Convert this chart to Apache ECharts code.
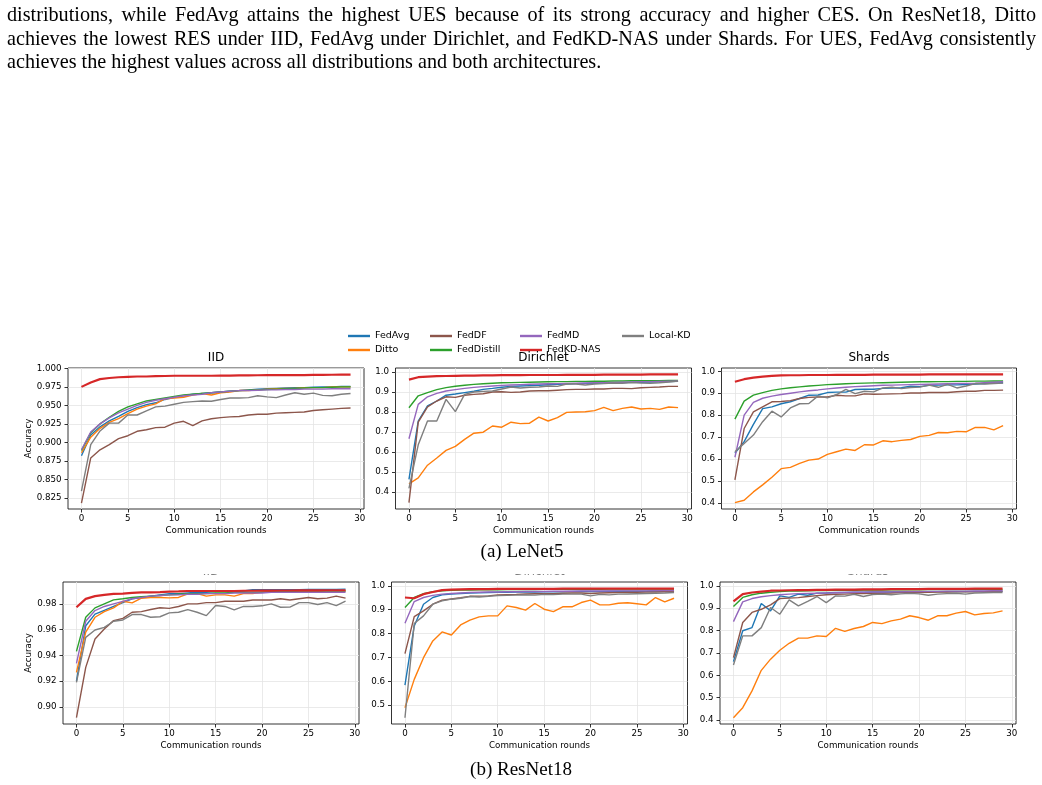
<!DOCTYPE html>
<html>
<head>
<meta charset="utf-8">
<script src="https://cdn.jsdelivr.net/npm/echarts@6.0.0/dist/echarts.min.js"></script>
<style>
  html, body { margin: 0; padding: 0; background: #fff; }
  #page { position: relative; width: 1042px; height: 785px; overflow: hidden; background: #fff; }
  #chart { position: absolute; left: 0; top: 0; width: 1042px; height: 785px; }
  #para { position: absolute; left: 7px; top: 1.5px; width: 1029px; font-family: "Liberation Serif", "Times New Roman", serif;
          font-size: 20.2px; line-height: 22.6px; color: #000; z-index: 5;
          transform: scaleY(1.04); transform-origin: 0 0; }
  #para .jl { text-align: justify; text-align-last: justify; white-space: nowrap; }
  #para .ll { text-align: left; white-space: nowrap; }
</style>
</head>
<body>
<div id="page">
  <div id="chart"></div>
  <div id="para">
    <div class="jl">distributions, while FedAvg attains the highest UES because of its strong accuracy and higher CES. On ResNet18, Ditto</div>
    <div class="jl">achieves the lowest RES under IID, FedAvg under Dirichlet, and FedKD-NAS under Shards. For UES, FedAvg consistently</div>
    <div class="ll">achieves the highest values across all distributions and both architectures.</div>
  </div>
</div>
<script>
// ---------------- data ----------------
const rounds = [0,1,2,3,4,5,6,7,8,9,10,11,12,13,14,15,16,17,18,19,20,21,22,23,24,25,26,27,28,29];
const methods = ['FedAvg','Ditto','FedDF','FedDistill','FedMD','FedKD-NAS','Local-KD'];
const methodColors = ['#1f77b4','#ff7f0e','#8c564b','#2ca02c','#9467bd','#d62728','#7f7f7f'];
const panelTitles = ['IID','Dirichlet','Shards','IID','Dirichlet','Shards'];
const xTicks = [0,5,10,15,20,25,30];

// LeNet5 - IID
const L5_IID_FedAvg    = [0.882,0.910,0.921,0.929,0.935,0.942,0.947,0.951,0.9535,0.958,0.961,0.963,0.965,0.966,0.967,0.968,0.969,0.970,0.971,0.972,0.9725,0.973,0.9735,0.974,0.974,0.9745,0.975,0.975,0.9755,0.9755];
const L5_IID_Ditto     = [0.886,0.907,0.919,0.927,0.932,0.939,0.945,0.949,0.952,0.959,0.960,0.961,0.964,0.966,0.964,0.967,0.968,0.970,0.970,0.971,0.972,0.9725,0.973,0.973,0.974,0.974,0.974,0.975,0.975,0.975];
const L5_IID_FedDF     = [0.818,0.879,0.890,0.897,0.905,0.909,0.915,0.917,0.920,0.9205,0.926,0.9285,0.9225,0.929,0.932,0.9335,0.9345,0.935,0.937,0.938,0.938,0.9395,0.940,0.9405,0.941,0.943,0.944,0.945,0.946,0.9465];
const L5_IID_FedDistill= [0.889,0.913,0.925,0.934,0.942,0.948,0.952,0.956,0.958,0.960,0.962,0.964,0.965,0.966,0.967,0.968,0.969,0.970,0.9705,0.971,0.9715,0.972,0.9725,0.973,0.9735,0.974,0.974,0.9745,0.975,0.975];
const L5_IID_FedMD     = [0.890,0.914,0.925,0.933,0.940,0.945,0.950,0.954,0.957,0.959,0.961,0.963,0.964,0.965,0.967,0.968,0.969,0.970,0.970,0.9705,0.971,0.971,0.9715,0.9715,0.972,0.972,0.972,0.9725,0.9725,0.9725];
const L5_IID_FedKDNAS  = [0.975,0.981,0.9855,0.987,0.988,0.9885,0.989,0.989,0.9895,0.9897,0.990,0.990,0.990,0.990,0.990,0.9902,0.9903,0.9905,0.9906,0.9907,0.9908,0.9909,0.991,0.991,0.991,0.9912,0.9913,0.9914,0.9915,0.9915];
const L5_IID_LocalKD   = [0.834,0.897,0.9155,0.926,0.926,0.937,0.937,0.9425,0.948,0.949,0.9515,0.954,0.955,0.956,0.9555,0.958,0.960,0.960,0.9605,0.963,0.9615,0.9605,0.964,0.967,0.965,0.9665,0.9635,0.963,0.965,0.966];

// LeNet5 - Dirichlet
const L5_DIR_FedAvg    = [0.463,0.755,0.831,0.855,0.884,0.890,0.897,0.904,0.913,0.918,0.924,0.928,0.930,0.932,0.934,0.936,0.938,0.940,0.942,0.943,0.944,0.945,0.946,0.947,0.948,0.949,0.950,0.951,0.952,0.954];
const L5_DIR_Ditto     = [0.441,0.471,0.534,0.570,0.608,0.628,0.663,0.694,0.699,0.730,0.724,0.749,0.742,0.744,0.774,0.755,0.772,0.798,0.800,0.801,0.807,0.823,0.807,0.818,0.825,0.815,0.818,0.813,0.825,0.822];
const L5_DIR_FedDF     = [0.347,0.749,0.826,0.855,0.876,0.873,0.884,0.888,0.891,0.900,0.901,0.898,0.900,0.905,0.906,0.906,0.909,0.912,0.913,0.913,0.915,0.915,0.918,0.918,0.917,0.921,0.923,0.925,0.928,0.928];
const L5_DIR_FedDistill= [0.8215,0.881,0.897,0.912,0.922,0.929,0.934,0.938,0.941,0.944,0.946,0.947,0.948,0.949,0.950,0.951,0.952,0.952,0.953,0.953,0.954,0.954,0.955,0.955,0.956,0.956,0.957,0.957,0.958,0.958];
const L5_DIR_FedMD     = [0.666,0.838,0.876,0.893,0.905,0.912,0.918,0.923,0.927,0.930,0.933,0.935,0.937,0.939,0.940,0.941,0.942,0.943,0.944,0.945,0.946,0.947,0.948,0.949,0.950,0.951,0.952,0.953,0.954,0.955];
const L5_DIR_FedKDNAS  = [0.962,0.974,0.977,0.979,0.980,0.981,0.982,0.982,0.983,0.983,0.984,0.984,0.984,0.985,0.985,0.985,0.985,0.986,0.986,0.986,0.986,0.987,0.987,0.987,0.987,0.987,0.988,0.988,0.988,0.988];
const L5_DIR_LocalKD   = [0.418,0.636,0.755,0.755,0.863,0.802,0.888,0.900,0.903,0.905,0.915,0.925,0.920,0.924,0.925,0.930,0.928,0.940,0.940,0.935,0.940,0.942,0.945,0.944,0.947,0.945,0.944,0.946,0.950,0.955];

// LeNet5 - Shards
const L5_SH_FedAvg     = [0.626,0.679,0.758,0.830,0.838,0.852,0.861,0.876,0.891,0.892,0.903,0.905,0.905,0.917,0.918,0.918,0.922,0.924,0.925,0.932,0.930,0.936,0.937,0.938,0.938,0.940,0.942,0.944,0.946,0.948];
const L5_SH_Ditto      = [0.401,0.412,0.450,0.482,0.517,0.556,0.562,0.580,0.595,0.600,0.621,0.633,0.645,0.639,0.665,0.664,0.683,0.679,0.685,0.689,0.703,0.708,0.721,0.720,0.726,0.724,0.744,0.744,0.733,0.752];
const L5_SH_FedDF      = [0.505,0.739,0.815,0.838,0.861,0.862,0.866,0.876,0.881,0.883,0.883,0.891,0.888,0.888,0.897,0.895,0.896,0.897,0.898,0.901,0.901,0.903,0.904,0.903,0.907,0.909,0.909,0.913,0.913,0.914];
const L5_SH_FedDistill = [0.782,0.864,0.891,0.903,0.913,0.920,0.925,0.929,0.933,0.936,0.939,0.941,0.943,0.945,0.946,0.947,0.948,0.949,0.950,0.951,0.952,0.952,0.953,0.953,0.954,0.954,0.955,0.955,0.956,0.956];
const L5_SH_FedMD      = [0.608,0.800,0.858,0.877,0.887,0.894,0.900,0.906,0.911,0.915,0.920,0.924,0.927,0.930,0.932,0.934,0.936,0.937,0.938,0.939,0.940,0.941,0.942,0.943,0.944,0.945,0.946,0.948,0.950,0.952];
const L5_SH_FedKDNAS   = [0.952,0.964,0.971,0.976,0.979,0.981,0.982,0.982,0.983,0.983,0.983,0.984,0.984,0.984,0.984,0.985,0.985,0.985,0.985,0.985,0.985,0.986,0.986,0.986,0.986,0.986,0.986,0.986,0.986,0.986];
const L5_SH_LocalKD    = [0.633,0.671,0.709,0.770,0.818,0.792,0.833,0.852,0.853,0.888,0.879,0.894,0.918,0.898,0.909,0.906,0.924,0.927,0.921,0.926,0.928,0.937,0.927,0.940,0.924,0.933,0.944,0.942,0.944,0.946];

// ResNet18 - IID
const R18_IID_FedAvg    = [0.920,0.963,0.972,0.975,0.978,0.981,0.984,0.985,0.986,0.987,0.988,0.988,0.9885,0.989,0.989,0.9895,0.9895,0.990,0.990,0.991,0.991,0.991,0.991,0.991,0.991,0.9912,0.9912,0.9912,0.9913,0.9915];
const R18_IID_Ditto     = [0.9268,0.958,0.9696,0.974,0.9769,0.982,0.9808,0.9844,0.985,0.985,0.9847,0.985,0.9878,0.988,0.986,0.987,0.987,0.986,0.988,0.988,0.989,0.989,0.989,0.989,0.9895,0.9895,0.9895,0.990,0.990,0.990];
const R18_IID_FedDF     = [0.8917,0.9307,0.9527,0.9605,0.967,0.9688,0.9735,0.974,0.9756,0.977,0.9765,0.978,0.980,0.980,0.981,0.981,0.982,0.982,0.982,0.983,0.983,0.983,0.984,0.983,0.984,0.985,0.984,0.9845,0.986,0.9845];
const R18_IID_FedDistill= [0.9431,0.9696,0.9769,0.980,0.9831,0.984,0.985,0.9855,0.986,0.9865,0.987,0.9875,0.988,0.988,0.988,0.9885,0.9885,0.989,0.989,0.989,0.989,0.9895,0.9895,0.9895,0.990,0.990,0.990,0.990,0.990,0.990];
const R18_IID_FedMD     = [0.9338,0.9665,0.9748,0.978,0.980,0.982,0.984,0.985,0.986,0.9865,0.987,0.987,0.9875,0.9875,0.988,0.988,0.988,0.9885,0.9885,0.9885,0.9885,0.989,0.989,0.989,0.989,0.989,0.989,0.989,0.989,0.989];
const R18_IID_FedKDNAS  = [0.9774,0.9839,0.986,0.987,0.9878,0.988,0.9885,0.989,0.989,0.9892,0.9895,0.9897,0.990,0.990,0.990,0.990,0.990,0.990,0.9902,0.9902,0.9903,0.9903,0.9904,0.9904,0.9905,0.9905,0.9905,0.9906,0.9906,0.9906];
const R18_IID_LocalKD   = [0.919,0.954,0.9597,0.9618,0.9665,0.9675,0.9717,0.9717,0.9696,0.970,0.973,0.9735,0.9756,0.9735,0.9709,0.9787,0.978,0.9753,0.978,0.978,0.9785,0.980,0.9774,0.9775,0.981,0.981,0.9795,0.981,0.9787,0.9821];

// ResNet18 - Dirichlet
const R18_DIR_FedAvg    = [0.584,0.832,0.923,0.951,0.962,0.966,0.968,0.970,0.971,0.972,0.973,0.973,0.974,0.974,0.974,0.975,0.975,0.975,0.976,0.976,0.976,0.976,0.977,0.977,0.977,0.977,0.977,0.978,0.978,0.978];
const R18_DIR_Ditto     = [0.489,0.608,0.699,0.769,0.807,0.794,0.836,0.856,0.870,0.874,0.874,0.916,0.909,0.898,0.926,0.902,0.892,0.912,0.912,0.930,0.940,0.920,0.920,0.927,0.929,0.925,0.920,0.951,0.933,0.948];
const R18_DIR_FedDF     = [0.716,0.871,0.895,0.923,0.940,0.945,0.950,0.956,0.957,0.958,0.962,0.963,0.964,0.966,0.967,0.967,0.967,0.969,0.970,0.970,0.968,0.970,0.971,0.972,0.973,0.973,0.974,0.974,0.975,0.976];
const R18_DIR_FedDistill= [0.909,0.951,0.967,0.975,0.979,0.981,0.982,0.982,0.983,0.983,0.983,0.984,0.984,0.984,0.984,0.985,0.985,0.985,0.985,0.985,0.985,0.985,0.986,0.986,0.986,0.986,0.986,0.986,0.986,0.986];
const R18_DIR_FedMD     = [0.843,0.934,0.951,0.960,0.965,0.968,0.970,0.972,0.973,0.974,0.974,0.975,0.975,0.976,0.976,0.976,0.977,0.977,0.977,0.978,0.978,0.978,0.978,0.979,0.979,0.979,0.979,0.980,0.980,0.980];
const R18_DIR_FedKDNAS  = [0.951,0.948,0.965,0.974,0.982,0.984,0.985,0.986,0.986,0.986,0.987,0.987,0.987,0.987,0.987,0.987,0.987,0.988,0.988,0.988,0.988,0.988,0.988,0.988,0.988,0.988,0.988,0.988,0.988,0.988];
const R18_DIR_LocalKD   = [0.447,0.842,0.874,0.923,0.937,0.944,0.948,0.955,0.953,0.956,0.959,0.960,0.961,0.962,0.961,0.964,0.963,0.965,0.965,0.965,0.958,0.964,0.962,0.965,0.966,0.967,0.968,0.969,0.970,0.972];

// ResNet18 - Shards
const R18_SH_FedAvg     = [0.661,0.799,0.813,0.921,0.888,0.955,0.948,0.963,0.958,0.967,0.968,0.970,0.970,0.971,0.971,0.972,0.972,0.972,0.973,0.973,0.973,0.973,0.974,0.974,0.974,0.974,0.975,0.975,0.975,0.975];
const R18_SH_Ditto      = [0.410,0.455,0.530,0.622,0.672,0.712,0.743,0.766,0.766,0.776,0.773,0.810,0.796,0.809,0.818,0.836,0.831,0.843,0.851,0.866,0.858,0.846,0.866,0.866,0.878,0.885,0.870,0.876,0.879,0.888];
const R18_SH_FedDF      = [0.679,0.836,0.881,0.895,0.915,0.943,0.945,0.947,0.952,0.956,0.960,0.962,0.963,0.965,0.965,0.967,0.967,0.968,0.970,0.970,0.970,0.971,0.972,0.972,0.973,0.973,0.973,0.974,0.975,0.976];
const R18_SH_FedDistill = [0.907,0.948,0.960,0.967,0.971,0.974,0.976,0.977,0.978,0.979,0.979,0.980,0.980,0.980,0.981,0.981,0.981,0.982,0.982,0.982,0.982,0.983,0.983,0.983,0.983,0.983,0.984,0.984,0.984,0.984];
const R18_SH_FedMD      = [0.840,0.928,0.943,0.951,0.956,0.960,0.963,0.965,0.966,0.967,0.968,0.969,0.970,0.971,0.971,0.972,0.972,0.973,0.973,0.974,0.974,0.975,0.975,0.976,0.976,0.976,0.977,0.977,0.978,0.978];
const R18_SH_FedKDNAS   = [0.930,0.963,0.970,0.974,0.978,0.979,0.980,0.981,0.981,0.982,0.982,0.983,0.983,0.983,0.984,0.984,0.984,0.985,0.985,0.985,0.985,0.986,0.986,0.986,0.986,0.986,0.987,0.987,0.987,0.987];
const R18_SH_LocalKD    = [0.646,0.776,0.776,0.813,0.903,0.873,0.937,0.910,0.930,0.952,0.925,0.955,0.954,0.962,0.952,0.961,0.963,0.960,0.964,0.966,0.964,0.958,0.963,0.965,0.967,0.963,0.968,0.969,0.970,0.970];

// y tick values
const L5_IID_yTicks  = [0.825,0.850,0.875,0.900,0.925,0.950,0.975,1.000];
const L5_DIR_yTicks  = [0.4,0.5,0.6,0.7,0.8,0.9,1.0];
const L5_SH_yTicks   = [0.4,0.5,0.6,0.7,0.8,0.9,1.0];
const R18_IID_yTicks = [0.90,0.92,0.94,0.96,0.98];
const R18_DIR_yTicks = [0.5,0.6,0.7,0.8,0.9,1.0];
const R18_SH_yTicks  = [0.4,0.5,0.6,0.7,0.8,0.9,1.0];

// legend columns (matplotlib column-major order)
const legendCols = [['FedAvg','Ditto'],['FedDF','FedDistill'],['FedMD','FedKD-NAS'],['Local-KD']];

// ---------------- layout ----------------
const panelData = [
  [L5_IID_FedAvg,L5_IID_Ditto,L5_IID_FedDF,L5_IID_FedDistill,L5_IID_FedMD,L5_IID_FedKDNAS,L5_IID_LocalKD],
  [L5_DIR_FedAvg,L5_DIR_Ditto,L5_DIR_FedDF,L5_DIR_FedDistill,L5_DIR_FedMD,L5_DIR_FedKDNAS,L5_DIR_LocalKD],
  [L5_SH_FedAvg,L5_SH_Ditto,L5_SH_FedDF,L5_SH_FedDistill,L5_SH_FedMD,L5_SH_FedKDNAS,L5_SH_LocalKD],
  [R18_IID_FedAvg,R18_IID_Ditto,R18_IID_FedDF,R18_IID_FedDistill,R18_IID_FedMD,R18_IID_FedKDNAS,R18_IID_LocalKD],
  [R18_DIR_FedAvg,R18_DIR_Ditto,R18_DIR_FedDF,R18_DIR_FedDistill,R18_DIR_FedMD,R18_DIR_FedKDNAS,R18_DIR_LocalKD],
  [R18_SH_FedAvg,R18_SH_Ditto,R18_SH_FedDF,R18_SH_FedDistill,R18_SH_FedMD,R18_SH_FedKDNAS,R18_SH_LocalKD]
];
const panelTicks = [L5_IID_yTicks,L5_DIR_yTicks,L5_SH_yTicks,R18_IID_yTicks,R18_DIR_yTicks,R18_SH_yTicks];
const layout = [
  {left: 68,    top: 368, w: 296, h: 141, yMin: 0.810, yMax: 1.0005, dec: 3, yName: true,  nameGap: 35},
  {left: 395.5, top: 368, w: 296, h: 141, yMin: 0.315, yMax: 1.020,  dec: 1, yName: false},
  {left: 721.5, top: 368, w: 295, h: 141, yMin: 0.372, yMax: 1.015,  dec: 1, yName: false},
  {left: 63,    top: 582, w: 296, h: 142, yMin: 0.8867,yMax: 0.997,  dec: 2, yName: true,  nameGap: 30},
  {left: 391.5, top: 582, w: 296, h: 142, yMin: 0.421, yMax: 1.016,  dec: 1, yName: false},
  {left: 720,   top: 582, w: 296, h: 142, yMin: 0.382, yMax: 1.017,  dec: 1, yName: false}
];

const MPL_FONT = '"DejaVu Sans", sans-serif';
const tickStyle = { show: true, inside: false, length: 3.5, lineStyle: { color: '#000', width: 0.8 } };
const gridLine = { show: true, lineStyle: { color: '#e4e4e4', width: 0.8 } };

const grids = layout.map(p => ({
  left: p.left, top: p.top, width: p.w, height: p.h,
  show: true, borderColor: '#000', borderWidth: 0.8, backgroundColor: 'rgba(0,0,0,0)',
  containLabel: false, outerBoundsMode: 'none'
}));

const xAxes = layout.map((p, i) => ({
  type: 'value', gridIndex: i, min: -1.45, max: 30.45, position: 'bottom',
  axisLine: { show: false, onZero: false },
  axisTick: Object.assign({ customValues: xTicks }, tickStyle),
  axisLabel: { customValues: xTicks, fontSize: 8.7, fontFamily: MPL_FONT, color: '#000', margin: 5.5,
               formatter: v => String(v) },
  splitLine: gridLine,
  name: 'Communication rounds', nameLocation: 'middle', nameGap: 17, nameMoveOverlap: false,
  nameTextStyle: { fontSize: 8.7, fontFamily: MPL_FONT, color: '#000' }
}));

const yAxes = layout.map((p, i) => {
  const ax = {
    type: 'value', gridIndex: i, min: p.yMin, max: p.yMax, position: 'left',
    axisLine: { show: false, onZero: false },
    axisTick: Object.assign({ customValues: panelTicks[i] }, tickStyle),
    axisLabel: { customValues: panelTicks[i], fontSize: 8.7, fontFamily: MPL_FONT, color: '#000', margin: 6.5,
                 formatter: v => Number(v).toFixed(p.dec) },
    splitLine: gridLine
  };
  if (p.yName) {
    Object.assign(ax, {
      name: 'Accuracy', nameLocation: 'middle', nameGap: p.nameGap, nameRotate: 90, nameMoveOverlap: false,
      nameTextStyle: { fontSize: 8.7, fontFamily: MPL_FONT, color: '#000' }
    });
  }
  return ax;
});

const series = [];
panelData.forEach((rows, i) => {
  rows.forEach((vals, m) => {
    series.push({
      type: 'line', name: methods[m], xAxisIndex: i, yAxisIndex: i,
      data: rounds.map((r, k) => [r, vals[k]]),
      symbol: 'none', showSymbol: false, smooth: false, silent: true,
      lineStyle: { color: methodColors[m], width: methods[m] === 'FedKD-NAS' ? 2.2 : 1.4 },
      itemStyle: { color: methodColors[m] },
      emphasis: { disabled: true }
    });
  });
});

const legendLefts = [348, 430, 520, 622];
const legends = legendCols.map((col, i) => ({
  data: col, orient: 'vertical', left: legendLefts[i], top: 330.5, padding: 0,
  itemGap: 3, itemWidth: 22, itemHeight: 2.4, icon: 'rect', selectedMode: false,
  textStyle: { fontSize: 9.5, fontFamily: MPL_FONT, color: '#000', lineHeight: 11 }
}));

const graphics = [];
layout.forEach((p, i) => {
  graphics.push({
    type: 'text', x: p.left + p.w / 2, y: p.top - 10, z: 50,
    style: { text: panelTitles[i], fontSize: 12, fontFamily: MPL_FONT, fill: '#000', align: 'center', verticalAlign: 'middle' }
  });
});
// white band of the page that hides the upper part of the ResNet18 titles (as in the source figure)
graphics.push({ type: 'rect', z: 100, shape: { x: 30, y: 559, width: 990, height: 15.5 }, style: { fill: '#fff' } });
graphics.push({
  type: 'text', x: 522, y: 552, z: 200,
  style: { text: '(a) LeNet5', fontSize: 19, fontFamily: '"Liberation Serif", serif', fill: '#000', align: 'center', verticalAlign: 'middle' }
});
graphics.push({
  type: 'text', x: 521, y: 770, z: 200,
  style: { text: '(b) ResNet18', fontSize: 19, fontFamily: '"Liberation Serif", serif', fill: '#000', align: 'center', verticalAlign: 'middle' }
});

const chart = echarts.init(document.getElementById('chart'), null, { renderer: 'canvas', width: 1042, height: 785 });
chart.setOption({
  animation: false,
  backgroundColor: 'rgba(0,0,0,0)',
  grid: grids,
  xAxis: xAxes,
  yAxis: yAxes,
  legend: legends,
  series: series,
  graphic: graphics
});
</script>
</body>
</html>
